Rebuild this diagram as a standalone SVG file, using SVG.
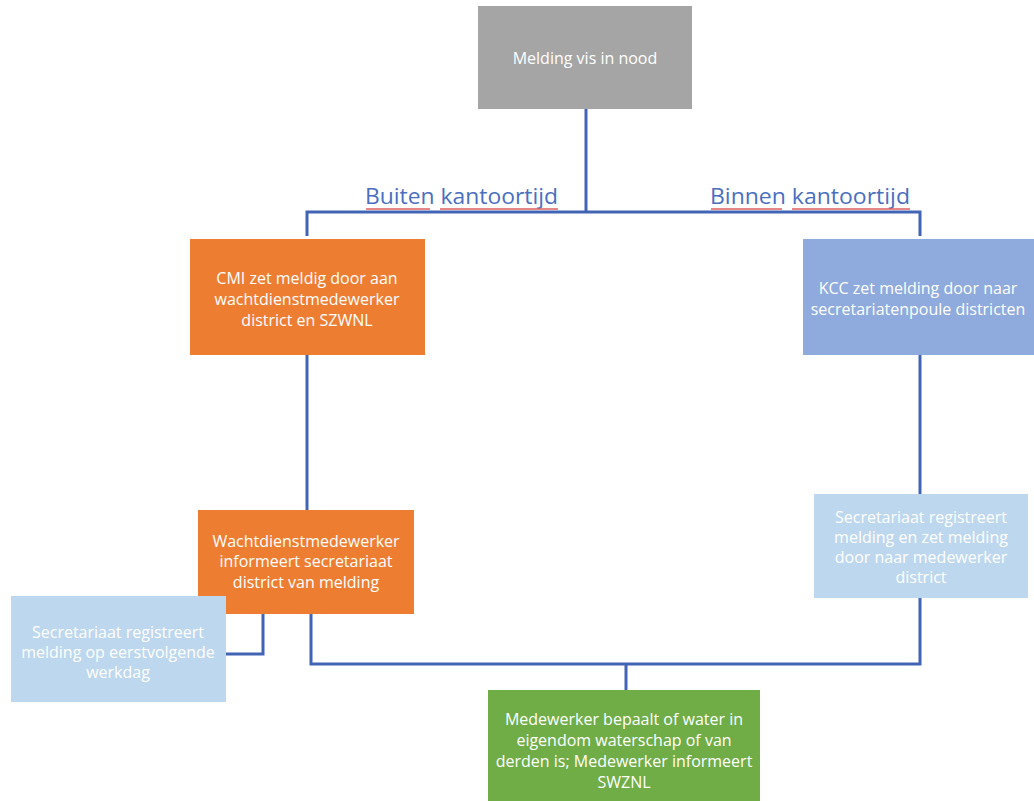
<svg xmlns="http://www.w3.org/2000/svg" width="1034" height="801" viewBox="0 0 1034 801">
<style>
.t{font-family:"Open Sans","Liberation Sans",sans-serif;font-size:16px;fill:#ffffff;text-anchor:middle}
.c{fill:none;stroke:#4264b4;stroke-width:3}
.lbl{font-family:"Open Sans","Liberation Sans",sans-serif;font-size:21px;fill:#4a6fc0}
.sq{fill:none;stroke:#e06060;stroke-width:1.5}
</style>
<rect width="1034" height="801" fill="#ffffff"/>
<g id="connectors">
<path class="c" d="M586 109 V212"/>
<path class="c" d="M307 236 V212 H920 V236"/>
<path class="c" d="M307 355 V510"/>
<path class="c" d="M920 355 V494"/>
<path class="c" d="M263 614 V654 H226"/>
<path class="c" d="M311 614 V664 H920 V598"/>
<path class="c" d="M626 664 V690"/>
</g>
<g id="label-buiten">
<text class="lbl" x="365" y="204" textLength="193" lengthAdjust="spacingAndGlyphs">Buiten kantoortijd</text>
<path class="sq" d="M366 209 H430 M440 209 H558"/>
</g>
<g id="label-binnen">
<text class="lbl" x="710" y="204" textLength="200" lengthAdjust="spacingAndGlyphs">Binnen kantoortijd</text>
<path class="sq" d="M711 209 H782 M792 209 H910"/>
</g>
<g id="melding">
<rect x="478" y="6" width="214" height="103" fill="#a5a5a5"/>
<text class="t" x="585" y="64">Melding vis in nood</text>
</g>
<g id="cmi">
<rect x="190" y="239" width="235" height="116" fill="#ed7d31"/>
<text class="t" x="307" y="284">CMI zet meldig door aan</text>
<text class="t" x="307" y="305">wachtdienstmedewerker</text>
<text class="t" x="307" y="326">district en SZWNL</text>
</g>
<g id="kcc">
<rect x="803" y="239" width="231" height="116" fill="#8faadc"/>
<text class="t" x="918" y="294">KCC zet melding door naar</text>
<text class="t" x="918" y="315">secretariatenpoule districten</text>
</g>
<g id="wachtdienst">
<rect x="198" y="510" width="216" height="104" fill="#ed7d31"/>
<text class="t" x="306" y="547">Wachtdienstmedewerker</text>
<text class="t" x="306" y="567">informeert secretariaat</text>
<text class="t" x="306" y="588">district van melding</text>
</g>
<g id="secretariaat-links">
<rect x="11" y="596" width="215" height="106" fill="#bdd7ee"/>
<text class="t" x="118" y="638">Secretariaat registreert</text>
<text class="t" x="118" y="658">melding op eerstvolgende</text>
<text class="t" x="118" y="678">werkdag</text>
</g>
<g id="secretariaat-rechts">
<rect x="814" y="494" width="214" height="104" fill="#bdd7ee"/>
<text class="t" x="921" y="523">Secretariaat registreert</text>
<text class="t" x="921" y="543">melding en zet melding</text>
<text class="t" x="921" y="563">door naar medewerker</text>
<text class="t" x="921" y="583">district</text>
</g>
<g id="medewerker">
<rect x="488" y="690" width="272" height="111" fill="#70ad47"/>
<text class="t" x="624" y="725">Medewerker bepaalt of water in</text>
<text class="t" x="624" y="746">eigendom waterschap of van</text>
<text class="t" x="624" y="767">derden is; Medewerker informeert</text>
<text class="t" x="624" y="788">SWZNL</text>
</g>
</svg>
